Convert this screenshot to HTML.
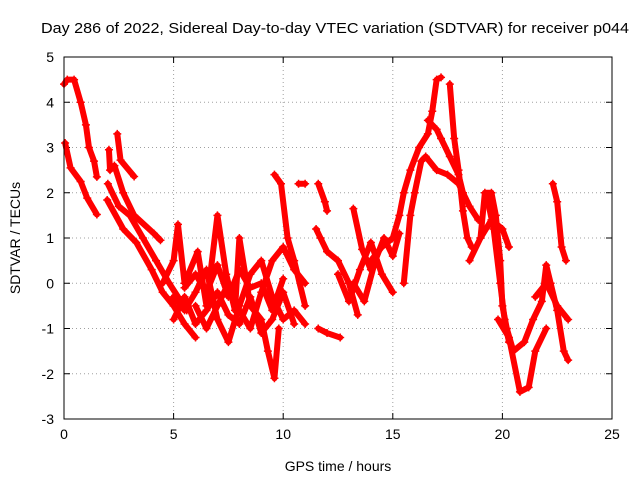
<!DOCTYPE html>
<html><head><meta charset="utf-8"><style>
body{margin:0;background:#fff}
svg{display:block;font-family:"Liberation Sans",sans-serif}
</style></head><body>
<svg id="chart" width="640" height="480">
<text x="335" y="33" font-size="15" text-anchor="middle" textLength="588" lengthAdjust="spacingAndGlyphs">Day 286 of 2022, Sidereal Day-to-day VTEC variation (SDTVAR) for receiver p044</text>
<text x="338" y="471" font-size="14" text-anchor="middle">GPS time / hours</text>
<text x="20" y="238" font-size="14" text-anchor="middle" transform="rotate(-90 20 238)">SDTVAR / TECUs</text>
<g id="grid"></g><g id="ticks"></g><g id="marks"></g>
<rect x="64" y="57" width="548" height="362" fill="none" stroke="#000" stroke-width="1"/>
</svg>
<script>
const xTicks=[0,5,10,15,20,25];
const yTicks=[-3,-2,-1,0,1,2,3,4,5];
const tracks=[
[[0.0,4.4],[0.15,4.5],[0.46,4.5],[0.76,4.0],[1.0,3.5],[1.14,3.0],[1.37,2.7],[1.5,2.35]],
[[0.05,3.1],[0.3,2.55],[0.76,2.25],[1.06,1.88],[1.5,1.52]],
[[2.43,3.3],[2.58,2.72],[3.2,2.36]],
[[2.05,2.95],[2.1,2.5],[2.3,2.6],[2.7,2.0],[3.2,1.5],[4.1,1.1],[4.4,0.95]],
[[1.97,1.84],[2.7,1.2],[3.3,0.9],[4.0,0.3],[4.5,-0.2],[5.0,-0.5],[5.5,-0.9],[6.0,-1.2]],
[[2.0,2.2],[2.5,1.7],[3.0,1.5],[3.6,1.0],[4.2,0.5],[4.8,0.0],[5.2,-0.3],[5.6,-0.6]],
[[4.5,0.0],[5.0,0.5],[5.2,1.3],[5.5,0.0],[6.1,0.7],[6.5,-0.5],[7.0,1.5],[7.4,0.2],[7.8,-0.6],[8.0,1.0],[8.5,-0.5],[9.0,-0.8],[9.3,-1.5],[9.6,-2.1],[9.8,-1.0]],
[[5.0,-0.3],[5.5,-0.6],[6.0,-0.2],[6.5,0.3],[7.0,-0.8],[7.5,-1.3],[8.0,-0.5],[8.5,0.2],[9.0,0.5],[9.5,-0.3],[10.0,-0.8],[10.5,-0.6],[11.0,-0.9]],
[[6.0,-0.5],[6.5,-1.0],[7.0,-0.5],[7.5,0.0],[8.0,-0.6],[8.5,-1.0],[9.0,-0.2],[9.5,0.5],[10.0,0.8],[10.5,0.3],[11.0,0.0]],
[[5.0,-0.8],[5.5,-0.3],[6.0,-0.9],[6.5,-0.6],[7.0,-0.2],[7.5,-0.7],[8.0,-0.9],[8.5,-0.3],[9.0,-1.1],[9.5,-0.8],[10.0,-0.2],[10.5,-0.9]],
[[5.5,-0.1],[6.0,0.2],[6.5,-0.2],[7.0,0.4],[7.5,-0.3],[8.0,0.3],[8.5,-0.1],[9.0,0.0],[9.5,-0.6],[10.0,0.1]],
[[9.6,2.4],[9.9,2.2],[10.2,1.0],[10.5,0.5],[11.0,-0.5]],
[[10.7,2.2],[11.0,2.2]],
[[11.6,2.2],[11.9,1.8],[12.0,1.6]],
[[11.5,1.2],[11.7,1.0],[12.0,0.7],[12.5,0.5],[13.0,0.0],[13.4,-0.7]],
[[11.6,-1.0],[12.0,-1.1],[12.6,-1.2]],
[[13.2,1.65],[13.6,0.75],[14.0,0.3]],
[[12.5,0.2],[13.0,-0.4],[13.5,0.3],[14.0,0.9],[14.5,0.2],[15.0,-0.2]],
[[13.2,0.0],[13.7,-0.4],[14.2,0.5],[14.6,1.0],[15.0,0.6],[15.3,1.1]],
[[14.0,0.5],[14.5,0.8],[15.0,1.0],[15.3,1.5],[15.5,2.0],[15.8,2.5],[16.2,3.0],[16.6,3.3],[16.8,3.8],[17.0,4.5],[17.2,4.55]],
[[15.5,0.0],[15.8,1.5],[16.0,2.0],[16.3,2.7],[16.5,2.8],[17.0,2.5],[17.5,2.4],[18.0,2.2],[18.5,1.7],[18.9,1.4]],
[[16.6,3.6],[17.0,3.4],[17.2,3.2],[17.6,2.8],[18.0,2.4],[18.2,2.0]],
[[17.6,4.4],[17.8,3.2],[18.0,2.5],[18.2,1.6],[18.4,1.0],[18.6,0.8]],
[[19.0,1.0],[19.2,2.0],[19.5,2.0],[19.7,1.5],[19.9,0.5],[20.0,-0.5],[20.2,-1.0],[20.5,-1.5],[21.0,-1.3],[21.4,-0.8],[21.8,-0.4],[22.0,0.4],[22.2,0.0],[22.5,-0.6],[22.8,-1.5],[23.0,-1.7]],
[[18.5,0.5],[19.0,1.0],[19.5,1.4],[20.0,1.2],[20.3,0.8]],
[[19.3,1.9],[19.6,1.2],[19.9,0.0],[20.1,-0.8],[20.3,-1.3]],
[[19.8,-0.8],[20.3,-1.2],[20.8,-2.4],[21.2,-2.3],[21.5,-1.5],[22.0,-1.0]],
[[22.3,2.2],[22.5,1.8],[22.7,0.8],[22.9,0.5]],
[[21.5,-0.3],[22.0,0.0],[22.5,-0.5],[23.0,-0.8]]
];
const NS="http://www.w3.org/2000/svg";
const x0=64,x1=612,y0=419,y1=57;
function sx(v){return x0+(v-0)/(25-0)*(x1-x0);}
function sy(v){return y0-(v+3)/(5+3)*(y0-y1);}
function mk(t,a,p){const e=document.createElementNS(NS,t);for(const k in a)e.setAttribute(k,a[k]);p.appendChild(e);return e;}
const grid=document.getElementById('grid'),ticks=document.getElementById('ticks'),marks=document.getElementById('marks');
xTicks.forEach(v=>{const X=sx(v);
 if(v>0&&v<25){const g=mk('line',{x1:X,x2:X,y1:y0,y2:y1,stroke:'#a0a0a0','stroke-dasharray':'1,3'},grid);}
 mk('line',{x1:X,x2:X,y1:y0,y2:y0-6,stroke:'#000'},ticks);mk('line',{x1:X,x2:X,y1:y1,y2:y1+6,stroke:'#000'},ticks);
 const t=mk('text',{x:X,y:y0+20,'font-size':14,'text-anchor':'middle'},ticks);t.textContent=v;
 });
yTicks.forEach(v=>{const Y=sy(v);
 if(v>-3&&v<5){const g=mk('line',{x1:x0,x2:x1,y1:Y,y2:Y,stroke:'#a0a0a0','stroke-dasharray':'1,3'},grid);}
 mk('line',{x1:x0,x2:x0+6,y1:Y,y2:Y,stroke:'#000'},ticks);mk('line',{x1:x1,x2:x1-6,y1:Y,y2:Y,stroke:'#000'},ticks);
 const t=mk('text',{x:x0-10,y:Y+5,'font-size':14,'text-anchor':'end'},ticks);t.textContent=v;
 });
tracks.forEach(tr=>{
 const pl=mk('polyline',{points:tr.map(p=>sx(p[0])+','+sy(p[1])).join(' '),fill:'none',stroke:'#f00','stroke-width':6,'stroke-linejoin':'round','stroke-linecap':'round'},marks);
 
 
 tr.forEach(p=>{const X=sx(p[0]),Y=sy(p[1]);
  const m=mk('path',{d:`M${X-4},${Y}H${X+4}M${X},${Y-4}V${Y+4}`,stroke:'#f00','stroke-width':1.5},marks);
  
  });
});
</script>
</body></html>
